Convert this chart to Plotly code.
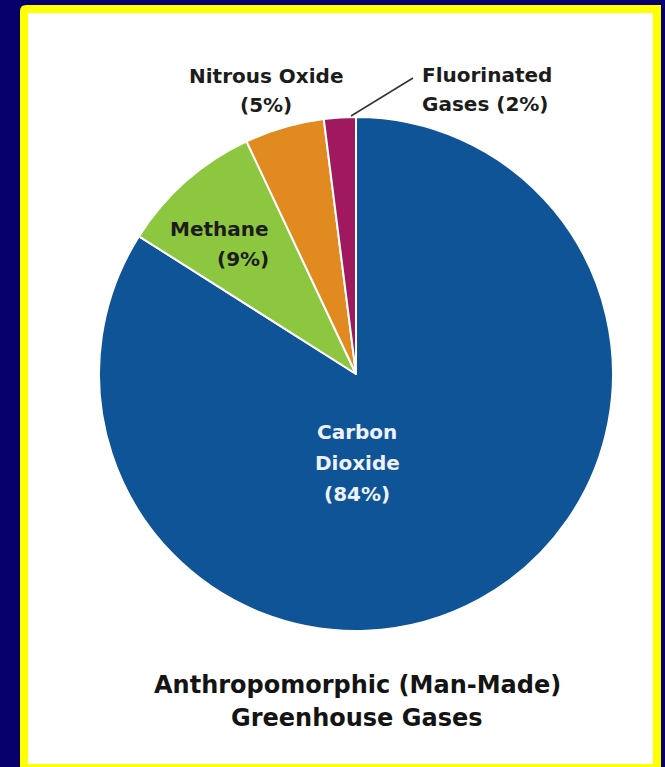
import plotly.graph_objects as go

# Shares of man-made greenhouse gas emissions
gases = ["Carbon Dioxide", "Methane", "Nitrous Oxide", "Fluorinated Gases"]
shares = [84, 9, 5, 2]
slice_colors = ["#0f5496", "#8dc63f", "#e08a20", "#a0195e"]

W, H = 665, 767


def px(x):
    return x / W


def py(y):
    return 1 - y / H


fig = go.Figure()

fig.add_trace(go.Pie(
    labels=gases,
    values=shares,
    sort=False,
    direction="clockwise",
    rotation=0,
    marker=dict(colors=slice_colors, line=dict(color="white", width=2)),
    textinfo="none",
    hoverinfo="label+percent",
    showlegend=False,
    domain=dict(x=[px(99), px(613)], y=[py(631), py(117)]),
))

FONT = "DejaVu Sans, sans-serif"
DARK = "#1c1c1c"

annotations = []


def label(lines, x, ys, color, size, anchor="center"):
    for text, y in zip(lines, ys):
        annotations.append(dict(
            x=px(x), y=py(y), xref="paper", yref="paper",
            text=f"<b>{text}</b>", showarrow=False,
            xanchor=anchor, yanchor="middle",
            font=dict(family=FONT, size=size, color=color),
        ))


share = dict(zip(gases, shares))
label(["Carbon", "Dioxide", f"({share['Carbon Dioxide']}%)"], 357, [432, 463, 494], "#eef2f8", 20)
label(["Methane", f"({share['Methane']}%)"], 271, [229, 259], DARK, 20, anchor="right")
label(["Nitrous Oxide", f"({share['Nitrous Oxide']}%)"], 266, [76, 105], DARK, 20)
label(["Fluorinated", f"Gases ({share['Fluorinated Gases']}%)"], 420, [75, 104], DARK, 20, anchor="left")
label(["Anthropomorphic (Man-Made)", "Greenhouse Gases"], 357, [685, 718], "#141414", 24)

fig.update_layout(
    width=W, height=H,
    margin=dict(l=0, r=0, t=0, b=0),
    paper_bgcolor="#07006a",
    plot_bgcolor="#07006a",
    annotations=annotations,
    shapes=[
        # yellow frame
        dict(type="path", xref="paper", yref="paper", layer="below",
             path=(f"M {px(20)},{py(780)} L {px(20)},{py(11)} "
                   f"Q {px(20)},{py(5)} {px(26)},{py(5)} "
                   f"L {px(661)},{py(5)} L {px(661)},{py(780)} Z"),
             fillcolor="#ffff00", line=dict(width=0)),
        # white panel
        dict(type="rect", xref="paper", yref="paper", layer="below",
             x0=px(28), x1=px(653), y0=py(764), y1=py(13),
             fillcolor="white", line=dict(width=0)),
        # leader line for the smallest slice
        dict(type="line", xref="paper", yref="paper",
             x0=px(351), y0=py(116), x1=px(413), y1=py(78),
             line=dict(color="#333333", width=1.5)),
    ],
)

fig.write_html("out.html")
